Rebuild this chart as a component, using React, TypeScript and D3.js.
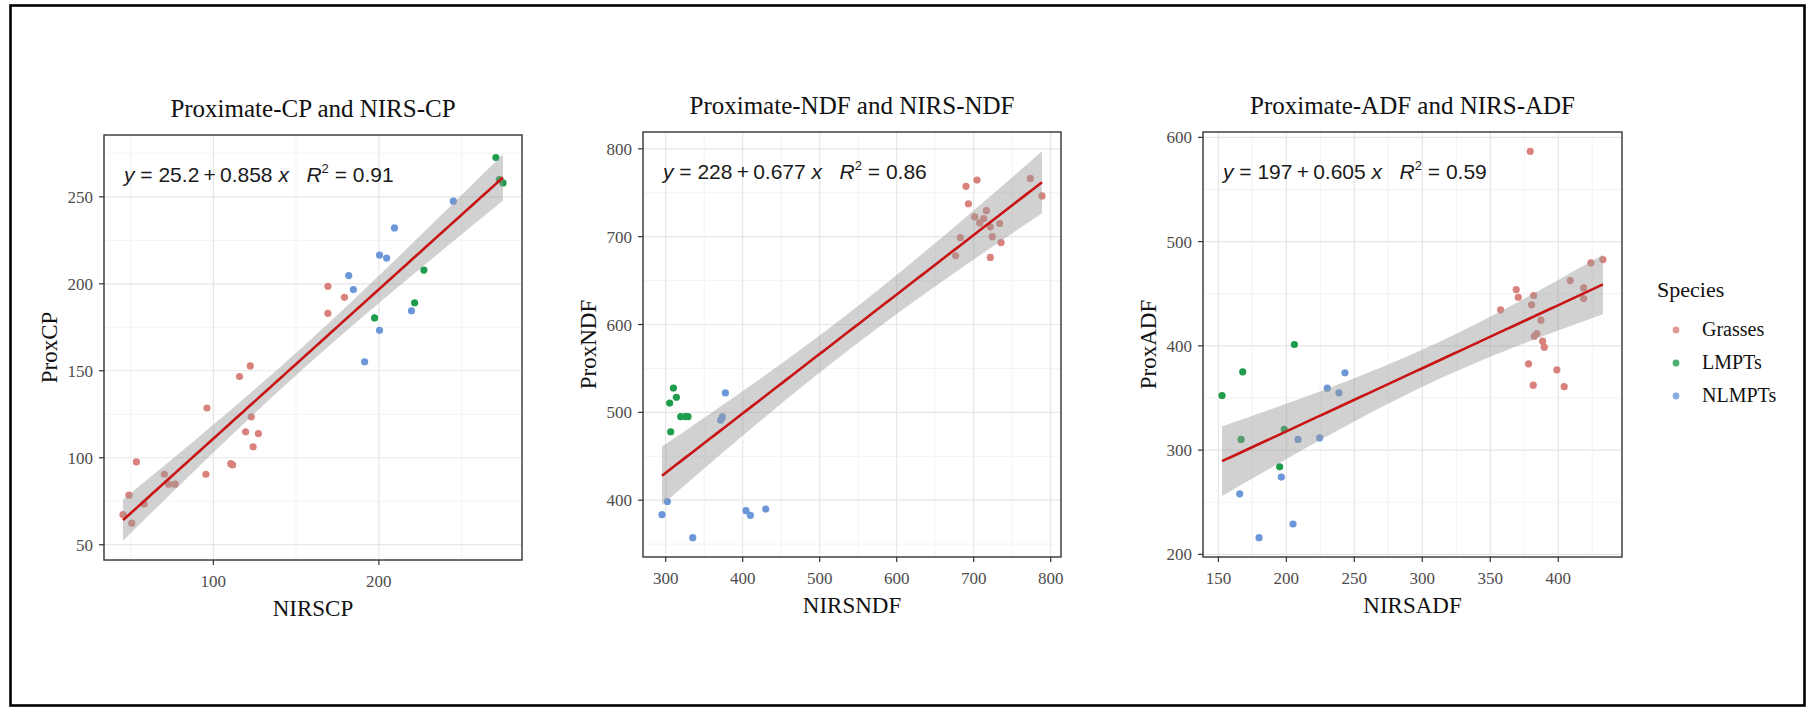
import React from "react";
import * as d3 from "d3";

// ---------- data ----------
const speciesNames = ["Grasses", "LMPTs", "NLMPTs"];
const speciesColors = ["#d9817c", "#1f9d4c", "#6b97d8"];

// Panel 1: CP
const cpGrassesX = [45.4, 49.0, 50.7, 53.5, 58.2, 70.4, 73.0, 76.9, 95.5, 96.1, 110.5, 111.6, 115.8, 119.5, 122.3, 122.9, 124.0, 127.2, 169.2, 169.2, 179.2];
const cpGrassesY = [67.3, 78.5, 62.4, 97.6, 73.4, 90.5, 84.8, 84.8, 90.5, 128.6, 96.6, 95.9, 146.7, 114.9, 152.8, 123.5, 106.3, 113.9, 198.6, 183.0, 192.2];
const cpLmptsX = [197.4, 221.6, 227.2, 270.7, 272.8, 275.0];
const cpLmptsY = [180.4, 189.1, 207.9, 272.6, 259.9, 258.0];
const cpNlmptsX = [181.8, 184.6, 191.4, 200.4, 200.4, 204.7, 209.4, 219.7, 245.0];
const cpNlmptsY = [204.7, 196.7, 155.2, 173.3, 216.5, 214.8, 232.1, 184.5, 247.5];
const cpXTicks = [100, 200];
const cpYTicks = [50, 100, 150, 200, 250];
const cpCoef = [25.2, 0.858];
const cpEqText = ["25.2", "0.858", "0.91"];

// Panel 2: NDF
const ndfGrassesX = [690.0, 704.3, 693.1, 701.3, 716.5, 713.0, 721.6, 682.7, 676.6, 724.2, 733.8, 735.5, 721.6, 773.6, 788.7, 707.8];
const ndfGrassesY = [757.3, 764.4, 737.5, 722.5, 729.6, 720.6, 711.2, 698.9, 678.3, 700.0, 715.0, 693.3, 676.4, 766.3, 746.4, 715.7];
const ndfLmptsX = [310.0, 313.9, 305.2, 319.5, 325.5, 329.0, 306.5];
const ndfLmptsY = [527.7, 517.2, 510.5, 495.1, 495.1, 495.1, 477.9];
const ndfNlmptsX = [377.5, 373.6, 371.4, 302.2, 295.2, 335.1, 404.3, 410.0, 429.9];
const ndfNlmptsY = [522.1, 494.8, 491.0, 398.5, 383.5, 357.3, 388.0, 382.8, 389.9];
const ndfXTicks = [300, 400, 500, 600, 700, 800];
const ndfYTicks = [400, 500, 600, 700, 800];
const ndfCoef = [228, 0.677];
const ndfEqText = ["228", "0.677", "0.86"];

// Panel 3: ADF
const adfGrassesX = [379.4, 424.0, 432.9, 408.8, 418.7, 418.7, 369.1, 370.6, 381.9, 380.4, 357.6, 387.3, 384.3, 382.4, 388.5, 389.7, 378.2, 399.0, 381.6, 404.4];
const adfGrassesY = [586.6, 479.6, 482.8, 462.6, 455.6, 445.4, 454.0, 446.6, 448.3, 439.4, 434.6, 424.6, 411.8, 409.3, 404.5, 398.7, 382.8, 377.0, 362.3, 360.8];
const adfLmptsX = [152.7, 167.9, 166.7, 205.9, 195.1, 198.5];
const adfLmptsY = [352.4, 375.1, 310.2, 401.3, 284.0, 319.8];
const adfNlmptsX = [165.7, 179.9, 196.3, 204.9, 208.6, 224.5, 230.1, 238.7, 243.1];
const adfNlmptsY = [258.1, 216.0, 274.1, 229.1, 310.2, 311.8, 359.4, 354.9, 374.1];
const adfXTicks = [150, 200, 250, 300, 350, 400];
const adfYTicks = [200, 300, 400, 500, 600];
const adfCoef = [197, 0.605];
const adfEqText = ["197", "0.605", "0.59"];

const titles = ["Proximate-CP and NIRS-CP", "Proximate-NDF and NIRS-NDF", "Proximate-ADF and NIRS-ADF"];
const xLabels = ["NIRSCP", "NIRSNDF", "NIRSADF"];
const yLabels = ["ProxCP", "ProxNDF", "ProxADF"];

// ---------- layout ----------
const W = 1807;
const H = 708;
const boxes = [
  { left: 104, right: 522, top: 135, bottom: 560 },
  { left: 643, right: 1061, top: 132, bottom: 557 },
  { left: 1203, right: 1622, top: 132, bottom: 557 },
];
const SERIF = "'Liberation Serif', 'Times New Roman', serif";
const SANS = "'Liberation Sans', Arial, sans-serif";

type Pt = { x: number; y: number; s: number };

function buildPoints(groups: number[][][]): Pt[] {
  const pts: Pt[] = [];
  groups.forEach(([xs, ys], s) => xs.forEach((x, i) => pts.push({ x, y: ys[i], s })));
  return pts;
}

const panels = [
  { pts: buildPoints([[cpGrassesX, cpGrassesY], [cpLmptsX, cpLmptsY], [cpNlmptsX, cpNlmptsY]]), xTicks: cpXTicks, yTicks: cpYTicks, coef: cpCoef, eq: cpEqText },
  { pts: buildPoints([[ndfGrassesX, ndfGrassesY], [ndfLmptsX, ndfLmptsY], [ndfNlmptsX, ndfNlmptsY]]), xTicks: ndfXTicks, yTicks: ndfYTicks, coef: ndfCoef, eq: ndfEqText },
  { pts: buildPoints([[adfGrassesX, adfGrassesY], [adfLmptsX, adfLmptsY], [adfNlmptsX, adfNlmptsY]]), xTicks: adfXTicks, yTicks: adfYTicks, coef: adfCoef, eq: adfEqText },
];

function tQuantile(df: number) {
  return 1.96 + 2.4 / df;
}

function ribbon(pts: Pt[], a: number, b: number) {
  const n = pts.length;
  const xbar = d3.mean(pts, (p) => p.x) as number;
  const sxx = d3.sum(pts, (p) => (p.x - xbar) ** 2);
  const sse = d3.sum(pts, (p) => (p.y - (a + b * p.x)) ** 2);
  const s = Math.sqrt(sse / (n - 2));
  const t = tQuantile(n - 2);
  const [x0, x1] = d3.extent(pts, (p) => p.x) as [number, number];
  return d3.range(80).map((i) => {
    const x = x0 + ((x1 - x0) * i) / 79;
    const fit = a + b * x;
    const se = s * Math.sqrt(1 / n + (x - xbar) ** 2 / sxx);
    return { x, fit, lo: fit - t * se, hi: fit + t * se };
  });
}

function expand([a, b]: [number, number]): [number, number] {
  const d = (b - a) * 0.05;
  return [a - d, b + d];
}

function minorTicks(major: number[], domain: [number, number]) {
  const step = major[1] - major[0];
  const res: number[] = [];
  for (let v = major[0] - step / 2; v <= major[major.length - 1] + step; v += step) {
    if (v >= domain[0] && v <= domain[1]) res.push(v);
  }
  return res;
}

function Panel({ idx }: { idx: number }) {
  const p = panels[idx];
  const box = boxes[idx];
  const [a, b] = p.coef;
  const rib = ribbon(p.pts, a, b);
  const xDom = expand(d3.extent(p.pts, (d) => d.x) as [number, number]);
  const yMin = Math.min(d3.min(p.pts, (d) => d.y) as number, d3.min(rib, (r) => r.lo) as number);
  const yMax = Math.max(d3.max(p.pts, (d) => d.y) as number, d3.max(rib, (r) => r.hi) as number);
  const yDom = expand([yMin, yMax]);
  const x = d3.scaleLinear().domain(xDom).range([box.left, box.right]);
  const y = d3.scaleLinear().domain(yDom).range([box.bottom, box.top]);
  const area = d3
    .area<{ x: number; lo: number; hi: number }>()
    .x((d) => x(d.x))
    .y0((d) => y(d.lo))
    .y1((d) => y(d.hi));
  const line = d3
    .line<{ x: number; fit: number }>()
    .x((d) => x(d.x))
    .y((d) => y(d.fit));
  const xMinor = minorTicks(p.xTicks, xDom);
  const yMinor = minorTicks(p.yTicks, yDom);
  const cx = (box.left + box.right) / 2;
  const cy = (box.top + box.bottom) / 2;
  return (
    <g>
      <text x={cx} y={box.top - 18} textAnchor="middle" fontFamily={SERIF} fontSize={25} fill="#111">
        {titles[idx]}
      </text>
      <rect x={box.left} y={box.top} width={box.right - box.left} height={box.bottom - box.top} fill="#fff" />
      {xMinor.map((v) => (
        <line key={"xm" + v} x1={x(v)} x2={x(v)} y1={box.top} y2={box.bottom} stroke="#f0f0f0" strokeWidth={0.8} />
      ))}
      {yMinor.map((v) => (
        <line key={"ym" + v} y1={y(v)} y2={y(v)} x1={box.left} x2={box.right} stroke="#f0f0f0" strokeWidth={0.8} />
      ))}
      {p.xTicks.map((v) => (
        <line key={"xg" + v} x1={x(v)} x2={x(v)} y1={box.top} y2={box.bottom} stroke="#e6e6e6" strokeWidth={1.2} />
      ))}
      {p.yTicks.map((v) => (
        <line key={"yg" + v} y1={y(v)} y2={y(v)} x1={box.left} x2={box.right} stroke="#e6e6e6" strokeWidth={1.2} />
      ))}
      {p.pts.map((d, i) => (
        <circle key={"p" + i} cx={x(d.x)} cy={y(d.y)} r={3.6} fill={speciesColors[d.s]} />
      ))}
      <path d={area(rib) || ""} fill="#999999" fillOpacity={0.45} />
      <path d={line(rib) || ""} fill="none" stroke="#c81414" strokeWidth={2.6} />
      <rect x={box.left} y={box.top} width={box.right - box.left} height={box.bottom - box.top} fill="none" stroke="#333" strokeWidth={1.4} />
      {p.xTicks.map((v) => (
        <g key={"xt" + v}>
          <line x1={x(v)} x2={x(v)} y1={box.bottom} y2={box.bottom + 5} stroke="#333" strokeWidth={1.2} />
          <text x={x(v)} y={box.bottom + 27} textAnchor="middle" fontFamily={SERIF} fontSize={17} fill="#4d4d4d">
            {v}
          </text>
        </g>
      ))}
      {p.yTicks.map((v) => (
        <g key={"yt" + v}>
          <line x1={box.left - 5} x2={box.left} y1={y(v)} y2={y(v)} stroke="#333" strokeWidth={1.2} />
          <text x={box.left - 11} y={y(v) + 6} textAnchor="end" fontFamily={SERIF} fontSize={17} fill="#4d4d4d">
            {v}
          </text>
        </g>
      ))}
      <text x={cx} y={box.bottom + 56} textAnchor="middle" fontFamily={SERIF} fontSize={23} fill="#111">
        {xLabels[idx]}
      </text>
      <text transform={`translate(${box.left - 47},${cy}) rotate(-90)`} textAnchor="middle" fontFamily={SERIF} fontSize={23} fill="#111">
        {yLabels[idx]}
      </text>
      <text x={box.left + 20} y={box.top + 47} fontFamily={SANS} fontSize={21} fill="#1a1a1a" style={{ whiteSpace: "pre" }}>
        <tspan fontStyle="italic">y</tspan>
        <tspan>{` = ${p.eq[0]}\u2009+\u20090.${p.eq[1].split(".")[1]} `}</tspan>
        <tspan fontStyle="italic">x</tspan>
        <tspan>{"   "}</tspan>
        <tspan fontStyle="italic">R</tspan>
        <tspan dy={-9} fontSize={13}>2</tspan>
        <tspan dy={9}>{` = ${p.eq[2]}`}</tspan>
      </text>
    </g>
  );
}

function Legend() {
  const lx = 1657;
  return (
    <g>
      <text x={lx} y={297} fontFamily={SERIF} fontSize={22} fill="#111">
        Species
      </text>
      {speciesNames.map((name, i) => (
        <g key={name}>
          <circle cx={lx + 19} cy={330 + i * 33} r={3.4} fill={speciesColors[i]} fillOpacity={0.8} />
          <text x={lx + 45} y={336 + i * 33} fontFamily={SERIF} fontSize={20} fill="#111">
            {name}
          </text>
        </g>
      ))}
    </g>
  );
}

export default function App() {
  return (
    <svg width={W} height={H} style={{ position: "absolute", left: 0, top: 0, background: "#fff" }}>
      <rect x={0} y={0} width={W} height={H} fill="#fff" />
      <rect x={10.5} y={5.5} width={1794} height={700} fill="none" stroke="#000" strokeWidth={2.6} />
      {panels.map((_, i) => (
        <Panel key={i} idx={i} />
      ))}
      <Legend />
    </svg>
  );
}
